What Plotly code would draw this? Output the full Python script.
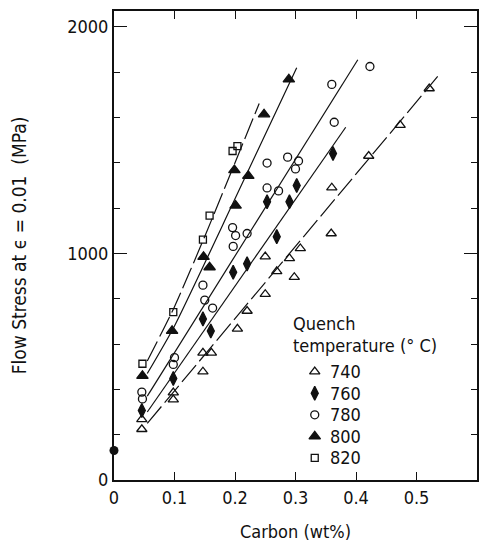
import plotly.graph_objects as go

# Measured flow stress (MPa) against carbon content (wt%) for each quench temperature
c740 = [0.046, 0.046, 0.098, 0.098, 0.147, 0.147, 0.161, 0.204, 0.220, 0.250, 0.250,
        0.269, 0.290, 0.298, 0.308, 0.359, 0.360, 0.421, 0.473, 0.521]
s740 = [224, 268, 355, 386, 478, 561, 561, 667, 746, 820, 986,
        921, 978, 895, 1022, 1088, 1290, 1430, 1566, 1728]

c760 = [0.046, 0.098, 0.147, 0.160, 0.197, 0.220, 0.253, 0.269, 0.290, 0.302, 0.362]
s760 = [307, 448, 711, 658, 917, 954, 1228, 1074, 1228, 1300, 1441]

c780 = [0.046, 0.047, 0.100, 0.098, 0.147, 0.150, 0.163, 0.196, 0.201, 0.197,
        0.220, 0.253, 0.253, 0.272, 0.287, 0.305, 0.300, 0.360, 0.364, 0.423]
s780 = [388, 358, 540, 510, 860, 794, 759, 1114, 1079, 1031,
        1088, 1399, 1289, 1276, 1425, 1408, 1373, 1746, 1579, 1825]

c800 = [0.047, 0.096, 0.148, 0.158, 0.201, 0.222, 0.199, 0.248, 0.289]
s800 = [460, 658, 985, 939, 1211, 1342, 1368, 1614, 1768]

c820 = [0.047, 0.098, 0.147, 0.158, 0.196, 0.204]
s820 = [513, 741, 1061, 1167, 1452, 1474]

# Fitted trend lines
fit740_c = [0.055, 0.535]
fit740_s = [250, 1781]
fit760_c = [0.055, 0.383]
fit760_s = [300, 1557]
fit780_c = [0.055, 0.403]
fit780_s = [370, 1855]
fit800_c = [0.055, 0.100, 0.200, 0.302]
fit800_s = [470, 680, 1241, 1820]
fit820_c = [0.055, 0.100, 0.150, 0.240]
fit820_s = [525, 765, 1075, 1662]

# Zero-carbon value
c0 = [0.0]
s0 = [130]

temps = ["740", "760", "780", "800", "820"]
x_ticks = [0, 0.1, 0.2, 0.3, 0.4, 0.5]
x_tick_text = ["0", "0.1", "0.2", "0.3", "0.4", "0.5"]
y_ticks = [0, 1000, 2000]

FONT = "DejaVu Sans Condensed, Liberation Sans Narrow, DejaVu Sans, sans-serif"
INK = "#111111"

fig = go.Figure()

fits = [
    (fit740_c, fit740_s, "22px,5px"),
    (fit760_c, fit760_s, "solid"),
    (fit780_c, fit780_s, "solid"),
    (fit800_c, fit800_s, "solid"),
    (fit820_c, fit820_s, "22px,5px"),
]
for xs, ys, dash in fits:
    fig.add_trace(go.Scatter(
        x=xs, y=ys, mode="lines", showlegend=False, hoverinfo="skip",
        line=dict(color=INK, width=1.2, dash=dash, shape="spline", smoothing=0.6),
    ))

styles = [
    ("triangle-up-open", 9),
    ("diamond-tall", 10),
    ("circle-open", 8),
    ("triangle-up", 10),
    ("square-open", 7),
]
series = [(c740, s740), (c760, s760), (c780, s780), (c800, s800), (c820, s820)]
for name, (xs, ys), (sym, size) in zip(temps, series, styles):
    fig.add_trace(go.Scatter(
        x=xs, y=ys, mode="markers", name=name, showlegend=False,
        marker=dict(symbol=sym, size=size, color=INK,
                    line=dict(color=INK, width=1.3)),
    ))

fig.add_trace(go.Scatter(
    x=c0, y=s0, mode="markers", showlegend=False, cliponaxis=False,
    marker=dict(symbol="circle", size=9, color=INK),
))

# Key: symbols on an invisible overlay axis spanning the plot area, labels as annotations
key_x_sym = 0.553
key_x_txt = 0.590
key_rows = [0.231, 0.185, 0.139, 0.093, 0.047]
for (sym, size), ky in zip(styles, key_rows):
    fig.add_trace(go.Scatter(
        x=[key_x_sym], y=[ky], xaxis="x2", yaxis="y2", mode="markers",
        showlegend=False, hoverinfo="skip",
        marker=dict(symbol=sym, size=size, color=INK, line=dict(color=INK, width=1.3)),
    ))

annotations = [
    dict(text="Quench", x=0.488, y=0.333),
    dict(text="temperature (° C)", x=0.488, y=0.287),
] + [dict(text=t, x=key_x_txt, y=ky) for t, ky in zip(temps, key_rows)]
for a in annotations:
    a.update(xref="paper", yref="paper", xanchor="left", yanchor="middle",
             showarrow=False, font=dict(size=18, family=FONT, color=INK))

fig.update_layout(
    width=479, height=542,
    margin=dict(l=114, r=0, t=11, b=60),
    paper_bgcolor="white", plot_bgcolor="white",
    font=dict(family=FONT, size=18, color=INK),
    showlegend=False,
    annotations=annotations,
    xaxis=dict(
        range=[0, 0.6], tickvals=x_ticks, ticktext=x_tick_text,
        ticks="inside", ticklen=8, tickwidth=1.3, tickcolor=INK,
        showline=True, linewidth=2, linecolor=INK, mirror="ticks",
        showgrid=False, zeroline=False,
        title=dict(text="Carbon (wt%)", standoff=22, font=dict(size=18)),
    ),
    yaxis=dict(
        range=[0, 2070], tickvals=y_ticks,
        ticks="inside", ticklen=13, tickwidth=1.3, tickcolor=INK,
        minor=dict(dtick=200, ticks="inside", ticklen=6, tickwidth=1.2, tickcolor=INK),
        showline=True, linewidth=2, linecolor=INK, mirror="ticks",
        showgrid=False, zeroline=False,
        title=dict(text="Flow Stress at ϵ = 0.01  (MPa)", standoff=36, font=dict(size=19)),
    ),
    xaxis2=dict(overlaying="x", range=[0, 1], visible=False, fixedrange=True),
    yaxis2=dict(overlaying="y", range=[0, 1], visible=False, fixedrange=True),
)

fig.write_html("out.html")
